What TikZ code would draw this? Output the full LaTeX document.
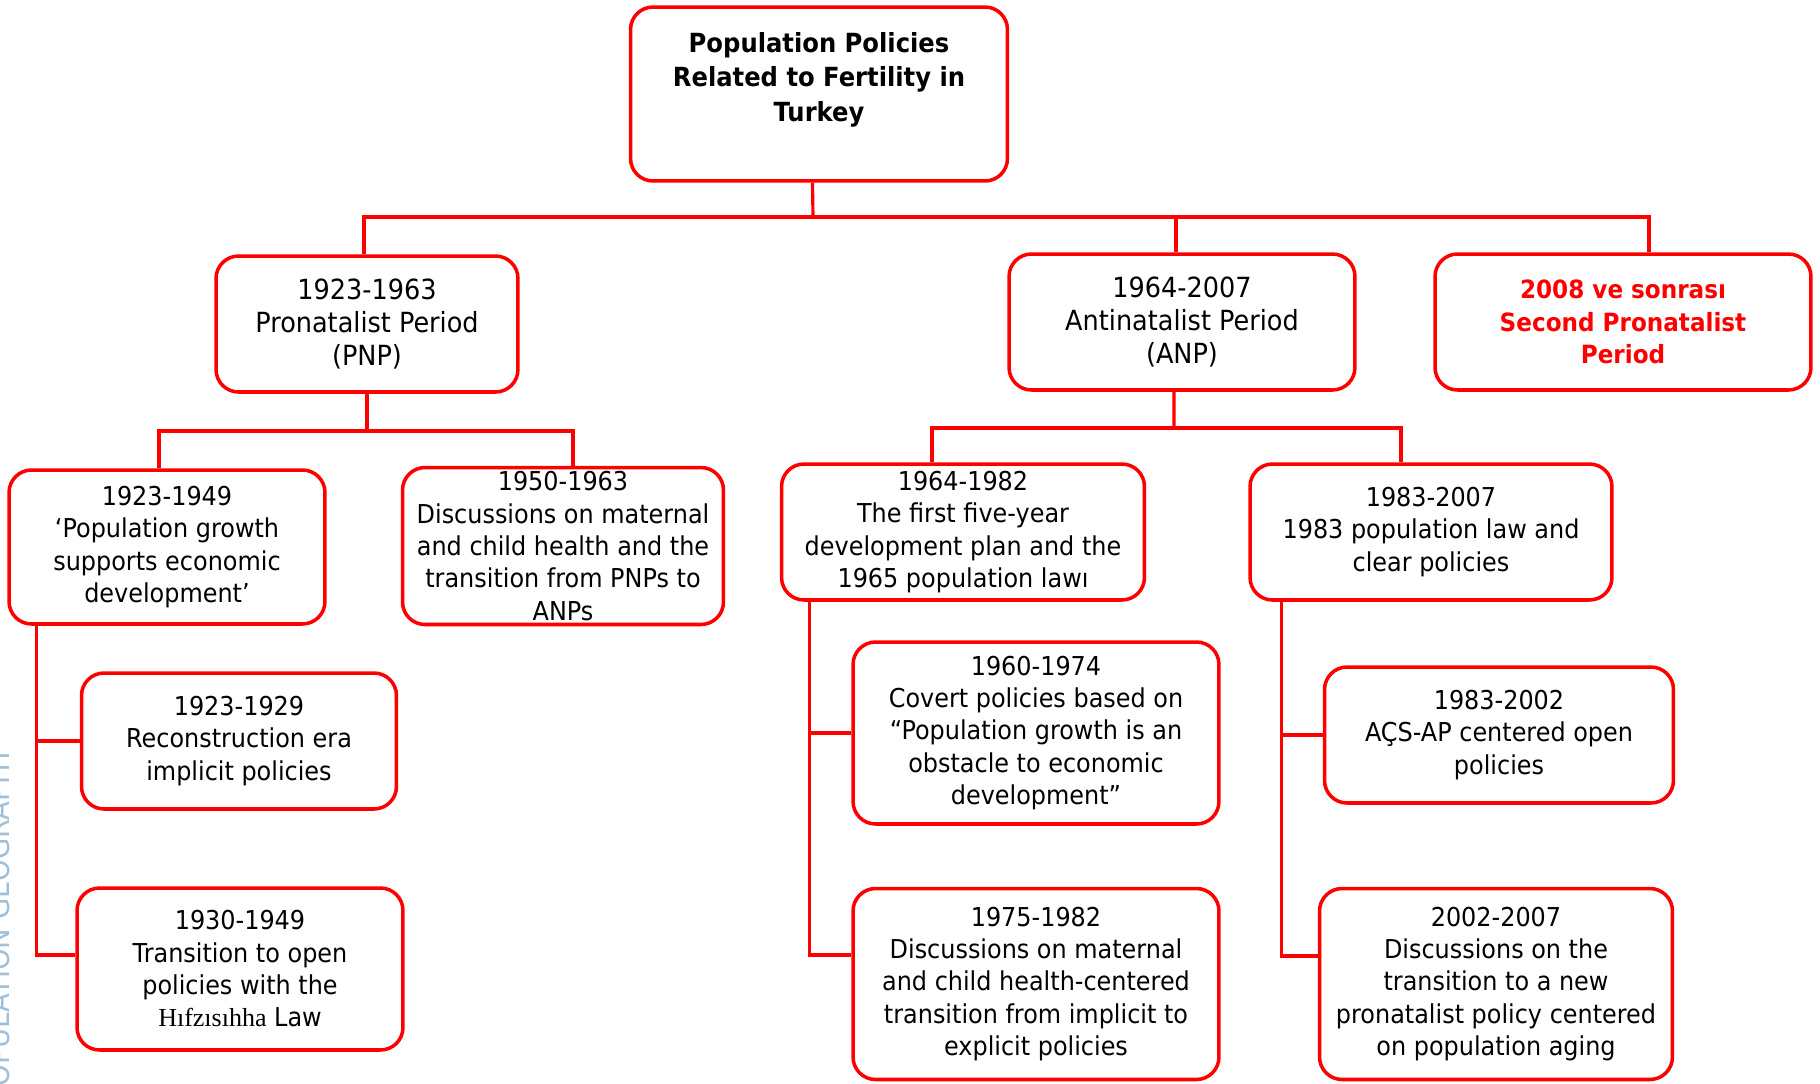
\documentclass[tikz,border=0pt]{standalone}
\usepackage{fontspec}
\setmainfont{DejaVu Sans}[FakeStretch=0.92]
\newfontfamily\lawfont{Liberation Serif}
\usepackage{tikz}

\definecolor{boxred}{RGB}{255,0,0}
\definecolor{markblue}{RGB}{160,192,218}

\tikzset{
  period/.style={draw=boxred, line width=2pt, rounded corners=0.45cm,
    align=center, inner sep=1pt, font=\fontsize{14.8}{18.4}\selectfont},
  bigperiod/.style={period, font=\fontsize{15.8}{18.8}\selectfont},
  link/.style={draw=boxred, line width=1.8pt},
}

\begin{document}
\begin{tikzpicture}[x=0.02cm, y=-0.02cm]
\useasboundingbox (0,0) rectangle (1820,1083);

% -------------------------------------------------------
% 1. Side mark (cut by the page edge)
% -------------------------------------------------------
\node[rotate=90, anchor=base east, text=markblue, inner sep=0pt,
  font=\fontsize{17}{20}\selectfont] (mark) at (10,747) {POPULATION GEOGRAPHY};

% -------------------------------------------------------
% 2. Title and the three periods
% -------------------------------------------------------
\node[period, minimum width=7.54cm, minimum height=3.48cm,
  font=\fontsize{15}{19.7}\selectfont\bfseries] (top) at (819,94)
  {Population Policies\\Related to Fertility in\\Turkey\\[-6pt] \strut};

\node[bigperiod, minimum width=6.04cm, minimum height=2.72cm] (pnp) at (367,324)
  {1923-1963\\Pronatalist Period\\(PNP)};
\node[bigperiod, minimum width=6.92cm, minimum height=2.72cm] (anp) at (1182,322)
  {1964-2007\\Antinatalist Period\\(ANP)};
\node[period, minimum width=7.52cm, minimum height=2.72cm, text=boxred,
  font=\fontsize{14.3}{18.4}\selectfont\bfseries] (later) at (1623,322)
  {2008 ve sonrası\\Second Pronatalist\\Period};

% -------------------------------------------------------
% 3. Sub-periods
% -------------------------------------------------------
\node[period, minimum width=6.32cm, minimum height=3.08cm] (pnpA) at (167,547)
  {1923-1949\\‘Population growth\\supports economic\\development’};
\node[period, minimum width=6.42cm, minimum height=3.14cm, inner sep=0pt] (pnpB) at (563,546)
  {1950-1963\\Discussions on maternal\\and child health and the\\transition from PNPs to\\ANPs};
\node[period, minimum width=7.26cm, minimum height=2.72cm] (anpA) at (963,532)
  {1964-1982\\The first five-year\\development plan and the\\1965 population lawı};
\node[period, minimum width=7.24cm, minimum height=2.72cm] (anpB) at (1431,532)
  {1983-2007\\1983 population law and\\clear policies};

% -------------------------------------------------------
% 4. Policy stages
% -------------------------------------------------------
\node[period, minimum width=6.30cm, minimum height=2.72cm] (pnpA1) at (239,741)
  {1923-1929\\Reconstruction era\\implicit policies};
\node[period, minimum width=6.52cm, minimum height=3.24cm] (pnpA2) at (240,969)
  {1930-1949\\Transition to open\\policies with the\\{\lawfont Hıfzısıhha} Law};

\node[period, minimum width=7.32cm, minimum height=3.64cm] (anpA1) at (1036,733)
  {1960-1974\\Covert policies based on\\“Population growth is an\\obstacle to economic\\development”};
\node[period, minimum width=7.32cm, minimum height=3.82cm] (anpA2) at (1036,984)
  {1975-1982\\Discussions on maternal\\and child health-centered\\transition from implicit to\\explicit policies};

\node[period, minimum width=6.98cm, minimum height=2.72cm] (anpB1) at (1499,735)
  {1983-2002\\AÇS-AP centered open\\policies};
\node[period, minimum width=7.06cm, minimum height=3.82cm] (anpB2) at (1496,984)
  {2002-2007\\Discussions on the\\transition to a new\\pronatalist policy centered\\on population aging};

% -------------------------------------------------------
% 5. Connectors
% -------------------------------------------------------
\coordinate (topbus) at (813,217);
\coordinate (pnpbus) at (367,431);
\coordinate (anpbus) at (1174,428);

\draw[link] ([xshift=-0.13cm]top.south) -- (topbus);
\draw[link] ([xshift=-0.06cm]pnp.north) |- (topbus) -| ([xshift=0.52cm]later.north);
\draw[link] ([xshift=-0.12cm]anp.north) -- ([xshift=-0.12cm]anp.north |- topbus);

\draw[link] (pnp.south) -- (pnpbus);
\draw[link] ([xshift=-0.16cm]pnpA.north) |- (pnpbus) -| ([xshift=0.2cm]pnpB.north);

\draw[link] ([xshift=-0.16cm]anp.south) -- (anpbus);
\draw[link] ([xshift=-0.62cm]anpA.north) |- (anpbus) -| ([xshift=-0.6cm]anpB.north);

% side branches
\draw[link] ([xshift=0.58cm]pnpA.south west) |- (pnpA1.west);
\draw[link] ([xshift=0.58cm]pnpA.south west) |- ([yshift=0.28cm]pnpA2.west);

\draw[link] ([xshift=0.6cm]anpA.south west) |- (anpA1.west);
\draw[link] ([xshift=0.6cm]anpA.south west) |- ([yshift=0.58cm]anpA2.west);

\draw[link] ([xshift=0.66cm]anpB.south west) |- (anpB1.west);
\draw[link] ([xshift=0.66cm]anpB.south west) |- ([yshift=0.56cm]anpB2.west);

\end{tikzpicture}
\end{document}
